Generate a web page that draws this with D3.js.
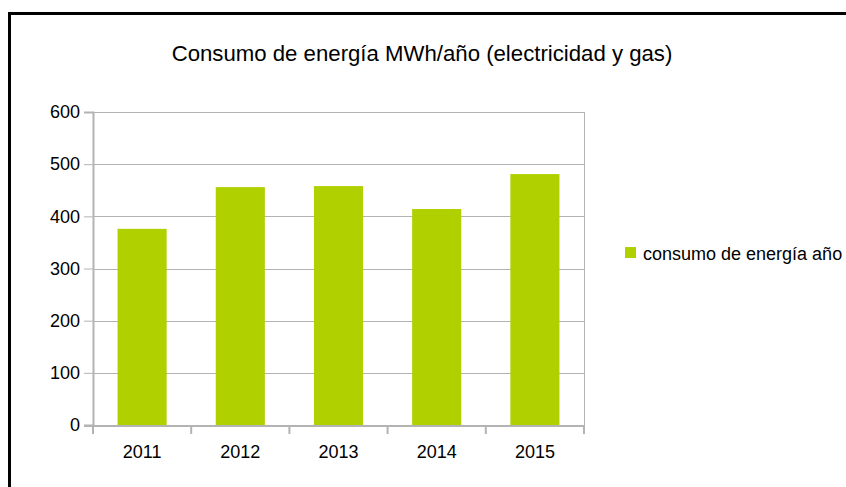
<!DOCTYPE html>
<html>
<head>
<meta charset="utf-8">
<script src="https://cdn.jsdelivr.net/npm/d3@7"></script>
<style>
  body { margin: 0; background: #fff; }
  text { font-family: "Liberation Sans", Arial, sans-serif; fill: #000; }
</style>
</head>
<body>
<svg id="chart"></svg>
<script>
// data
const years = ["2011", "2012", "2013", "2014", "2015"];
const consumo = [376, 456, 458, 414, 481];
const yTicks = [0, 100, 200, 300, 400, 500, 600];
const title = "Consumo de energía MWh/año (electricidad y gas)";
const seriesName = "consumo de energía año";

const W = 846, H = 487;
const barColor = "#b0d000", gridColor = "#b3b3b3";

const svg = d3.select("#chart").attr("width", W).attr("height", H);

// frame (runs off the right and bottom edges)
svg.append("rect")
    .attr("x", 9.5).attr("y", 13.5)
    .attr("width", 900).attr("height", 600)
    .attr("fill", "none").attr("stroke", "#000").attr("stroke-width", 3);

// title
svg.append("text")
    .attr("x", 422).attr("y", 61)
    .attr("text-anchor", "middle")
    .style("font-size", "22.2px")
    .text(title);

// plot area
const plot = {left: 93, right: 584, top: 112, bottom: 425};

const x = d3.scaleBand()
    .domain(years)
    .range([plot.left, plot.right])
    .paddingInner(0.5).paddingOuter(0.25);

const y = d3.scaleLinear()
    .domain([0, 600])
    .range([plot.bottom, plot.top]);

const g = svg.append("g");

// horizontal gridlines
g.selectAll(".grid")
    .data(yTicks.filter(d => d > 0))
    .join("line")
    .attr("class", "grid")
    .attr("x1", plot.left).attr("x2", plot.right)
    .attr("y1", d => Math.round(y(d)) + 0.5).attr("y2", d => Math.round(y(d)) + 0.5)
    .attr("stroke", gridColor).attr("stroke-width", 1);

// right edge of the plot
g.append("line")
    .attr("x1", plot.right + 0.5).attr("x2", plot.right + 0.5)
    .attr("y1", plot.top).attr("y2", plot.bottom)
    .attr("stroke", gridColor).attr("stroke-width", 1);

// bars
g.selectAll(".bar")
    .data(consumo)
    .join("rect")
    .attr("class", "bar")
    .attr("x", (d, i) => x(years[i]))
    .attr("width", x.bandwidth())
    .attr("y", d => y(d))
    .attr("height", d => y(0) - y(d))
    .attr("fill", barColor);

// y axis
const yAxis = g.append("g")
    .attr("transform", `translate(${plot.left},0)`)
    .call(d3.axisLeft(y).tickValues(yTicks).tickSize(9).tickPadding(4));
yAxis.select(".domain").attr("stroke", gridColor).attr("stroke-width", 2);
yAxis.selectAll(".tick line").attr("stroke", gridColor).attr("stroke-width", 1);
yAxis.selectAll(".tick text").style("font-size", "18px").attr("fill", "#000");

// x axis: ticks sit on category boundaries
const step = x.step();
const bounds = years.map((d, i) => plot.left + i * step).concat([plot.right]);
g.append("line")
    .attr("x1", plot.left - 9).attr("x2", plot.right + 1)
    .attr("y1", plot.bottom + 1).attr("y2", plot.bottom + 1)
    .attr("stroke", gridColor).attr("stroke-width", 2);
g.selectAll(".xtick")
    .data(bounds)
    .join("line")
    .attr("class", "xtick")
    .attr("x1", d => d).attr("x2", d => d)
    .attr("y1", plot.bottom).attr("y2", plot.bottom + 9)
    .attr("stroke", gridColor).attr("stroke-width", 2);
g.selectAll(".xlabel")
    .data(years)
    .join("text")
    .attr("class", "xlabel")
    .attr("x", d => x(d) + x.bandwidth() / 2)
    .attr("y", 458)
    .attr("text-anchor", "middle")
    .style("font-size", "18px")
    .text(d => d);

// legend
const legend = svg.append("g").attr("transform", "translate(625,247)");
legend.append("rect")
    .attr("width", 11).attr("height", 11)
    .attr("fill", barColor);
legend.append("text")
    .attr("x", 18).attr("y", 13)
    .style("font-size", "18px")
    .text(seriesName);
</script>
</body>
</html>
